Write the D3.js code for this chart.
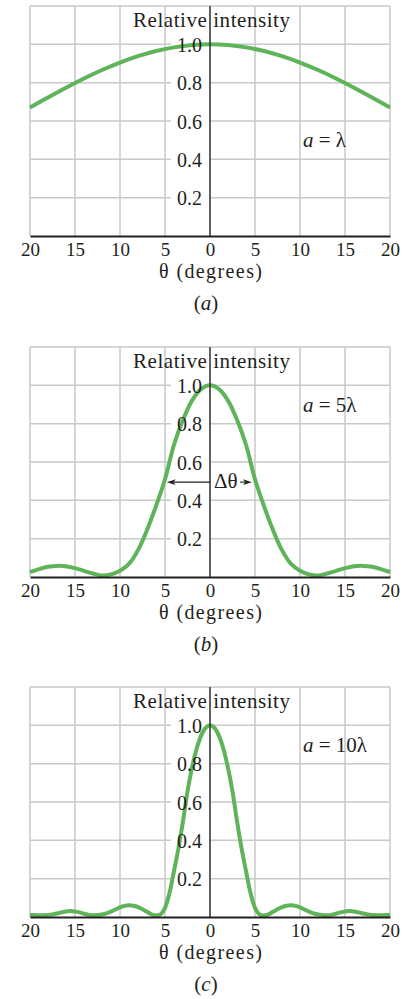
<!DOCTYPE html>
<html><head><meta charset="utf-8">
<script src="https://cdn.jsdelivr.net/npm/d3@7"></script>
<style>
html,body{margin:0;padding:0;background:#fff;}
svg{display:block;}
</style></head><body>
<svg id="chart" width="410" height="999"></svg>
<script>
// ---- data ----
const xTicks = [-20, -15, -10, -5, 0, 5, 10, 15, 20];
const yTicks = [0.2, 0.4, 0.6, 0.8, 1.0];
const panelLabels = ["a", "b", "c"];
const slitLabels = ["", "5", "10"];

// panel (a): a = λ  (one side, curve is symmetric about θ = 0)
const thetaA = [0, 2, 4, 6, 8, 10, 12, 14, 16, 18, 20];
const intensityA = [1.0, 0.996, 0.984, 0.965, 0.938, 0.905, 0.866, 0.822, 0.774, 0.723, 0.670];

// panel (b): a = 5λ
const thetaB = [0, 1, 2, 3, 4, 5, 6, 7, 8, 9, 10, 11, 12, 13, 14, 15, 16, 17, 18, 19, 20];
const intensityB = [1.0, 0.98, 0.92, 0.82, 0.69, 0.51, 0.37, 0.245, 0.14, 0.068, 0.033, 0.014, 0.008, 0.018,
                    0.032, 0.046, 0.056, 0.058, 0.053, 0.041, 0.026];

// panel (c): a = 10λ
const thetaC = [0, 0.5, 1, 1.5, 2, 2.5, 3, 3.5, 4, 4.5, 5, 5.5, 6, 6.5, 7, 7.5, 8, 8.5, 9, 9.5, 10,
                10.5, 11, 11.5, 12, 12.5, 13, 13.5, 14, 14.5, 15, 15.5, 16, 16.5, 17, 17.5, 18, 18.5, 19, 19.5, 20];
const intensityC = [1.0, 0.986, 0.945, 0.875, 0.778, 0.654, 0.50, 0.36, 0.24, 0.125, 0.048, 0.014, 0.008,
                    0.014, 0.027, 0.041, 0.052, 0.059, 0.061, 0.058, 0.05, 0.039, 0.028, 0.019, 0.013, 0.01,
                    0.009, 0.011, 0.017, 0.024, 0.029, 0.031, 0.029, 0.024, 0.018, 0.013, 0.01, 0.009, 0.009,
                    0.01, 0.011];

// half-width arrow in panel (b): tips at these angles, at this intensity
const deltaTips = [-4.8, 4.65];
const deltaLevel = 0.495;

// ---- drawing ----
const svg = d3.select("#chart");
const serif = "'Liberation Serif','Times New Roman',serif";
const ink = "#231f20";
const gridCol = "#c9c9c9";
const green = "#5fb359";

const x = d3.scaleLinear().domain([-20, 20]).range([30, 390]);
const y = d3.scaleLinear().domain([0, 1.2]).range([236, 6]);
const offsets = [0, 341, 681];

const panels = [
  { theta: thetaA, I: intensityA },
  { theta: thetaB, I: intensityB },
  { theta: thetaC, I: intensityC }
];

function fullCurve(theta, I) {
  const pts = [];
  for (let k = theta.length - 1; k > 0; k--) pts.push([-theta[k], I[k]]);
  for (let k = 0; k < theta.length; k++) pts.push([theta[k], I[k]]);
  return pts;
}

const line = d3.line().x(d => x(d[0])).y(d => y(d[1])).curve(d3.curveCatmullRom.alpha(0.5));

panels.forEach((p, i) => {
  const g = svg.append("g").attr("transform", `translate(0,${offsets[i]})`);

  // grid
  g.append("g").selectAll("line").data(xTicks).join("line")
    .attr("x1", d => x(d)).attr("x2", d => x(d))
    .attr("y1", y(1.2)).attr("y2", y(0))
    .attr("stroke", gridCol).attr("stroke-width", 1.5);
  g.append("g").selectAll("line").data(yTicks.concat([1.2])).join("line")
    .attr("x1", x(-20)).attr("x2", x(20))
    .attr("y1", d => y(d)).attr("y2", d => y(d))
    .attr("stroke", gridCol).attr("stroke-width", 1.5);

  // white knock-outs behind y tick labels
  g.append("g").selectAll("rect").data(yTicks).join("rect")
    .attr("x", x(0) - 39).attr("width", 38)
    .attr("y", d => y(d) - 8).attr("height", 16)
    .attr("fill", "#fff");

  // curve
  g.append("path").datum(fullCurve(p.theta, p.I))
    .attr("d", line).attr("fill", "none")
    .attr("stroke", green).attr("stroke-width", 4).attr("stroke-linejoin", "round");

  // vertical axis
  g.append("line").attr("x1", x(0)).attr("x2", x(0)).attr("y1", y(1.2)).attr("y2", y(0))
    .attr("stroke", ink).attr("stroke-width", 1.3);

  // x axis
  const xa = g.append("g").attr("transform", `translate(0,${y(0)})`)
    .call(d3.axisBottom(x).tickValues(xTicks).tickFormat(d => Math.abs(d)).tickSize(0).tickSizeOuter(0));
  xa.select(".domain").attr("stroke", ink).attr("stroke-width", 1.8);
  xa.selectAll("text").attr("dy", null).attr("y", 19.5)
    .attr("font-family", serif).attr("font-size", 19).attr("fill", ink);
  xa.attr("font-family", null).attr("font-size", null);

  // y axis labels
  const ya = g.append("g").attr("transform", `translate(${x(0)},0)`)
    .call(d3.axisLeft(y).tickValues(yTicks).tickFormat(d3.format(".1f")).tickSize(0).tickPadding(8));
  ya.select(".domain").remove();
  ya.selectAll("text").attr("dy", "0.36em")
    .attr("font-family", serif).attr("font-size", 20).attr("fill", ink);
  ya.attr("font-family", null).attr("font-size", null);

  // title
  g.append("text").attr("x", 211.5).attr("y", y(1.2) + 21)
    .attr("text-anchor", "middle").attr("font-family", serif).attr("font-size", 21)
    .attr("fill", ink).attr("textLength", 157).attr("lengthAdjust", "spacing")
    .text("Relative intensity");

  // x label
  g.append("text").attr("x", 210.5).attr("y", y(0) + 42)
    .attr("text-anchor", "middle").attr("font-family", serif).attr("font-size", 20)
    .attr("fill", ink).attr("textLength", 103).attr("lengthAdjust", "spacing")
    .text("θ (degrees)");

  // panel label
  const pl = g.append("text").attr("x", 206).attr("y", y(0) + 74)
    .attr("text-anchor", "middle").attr("font-family", serif).attr("font-size", 21).attr("fill", ink);
  pl.append("tspan").text("(");
  pl.append("tspan").attr("font-style", "italic").text(panelLabels[i]);
  pl.append("tspan").text(")");

  // slit width label
  const sl = g.append("text").attr("x", 303).attr("y", i === 0 ? 147 : 71)
    .attr("font-family", serif).attr("font-size", 21).attr("fill", ink);
  sl.append("tspan").attr("font-style", "italic").text("a");
  sl.append("tspan").text(" = " + slitLabels[i] + "λ");

  // Δθ arrow in panel (b)
  if (i === 1) {
    const yy = y(deltaLevel);
    const lt = x(deltaTips[0]), rt = x(deltaTips[1]);
    g.append("line").attr("x1", lt + 3).attr("x2", x(0)).attr("y1", yy).attr("y2", yy)
      .attr("stroke", ink).attr("stroke-width", 1.1);
    g.append("line").attr("x1", x(0) + 30).attr("x2", rt - 3).attr("y1", yy).attr("y2", yy)
      .attr("stroke", ink).attr("stroke-width", 1.1);
    g.append("path").attr("d", `M${lt},${yy} L${lt + 9},${yy - 2.8} L${lt + 6.5},${yy} L${lt + 9},${yy + 2.8} Z`)
      .attr("fill", ink);
    g.append("path").attr("d", `M${rt},${yy} L${rt - 9},${yy - 2.8} L${rt - 6.5},${yy} L${rt - 9},${yy + 2.8} Z`)
      .attr("fill", ink);
    g.append("text").attr("x", x(0) + 4).attr("y", yy + 6)
      .attr("font-family", serif).attr("font-size", 21).attr("fill", ink).text("Δθ");
  }
});
</script>
</body></html>
